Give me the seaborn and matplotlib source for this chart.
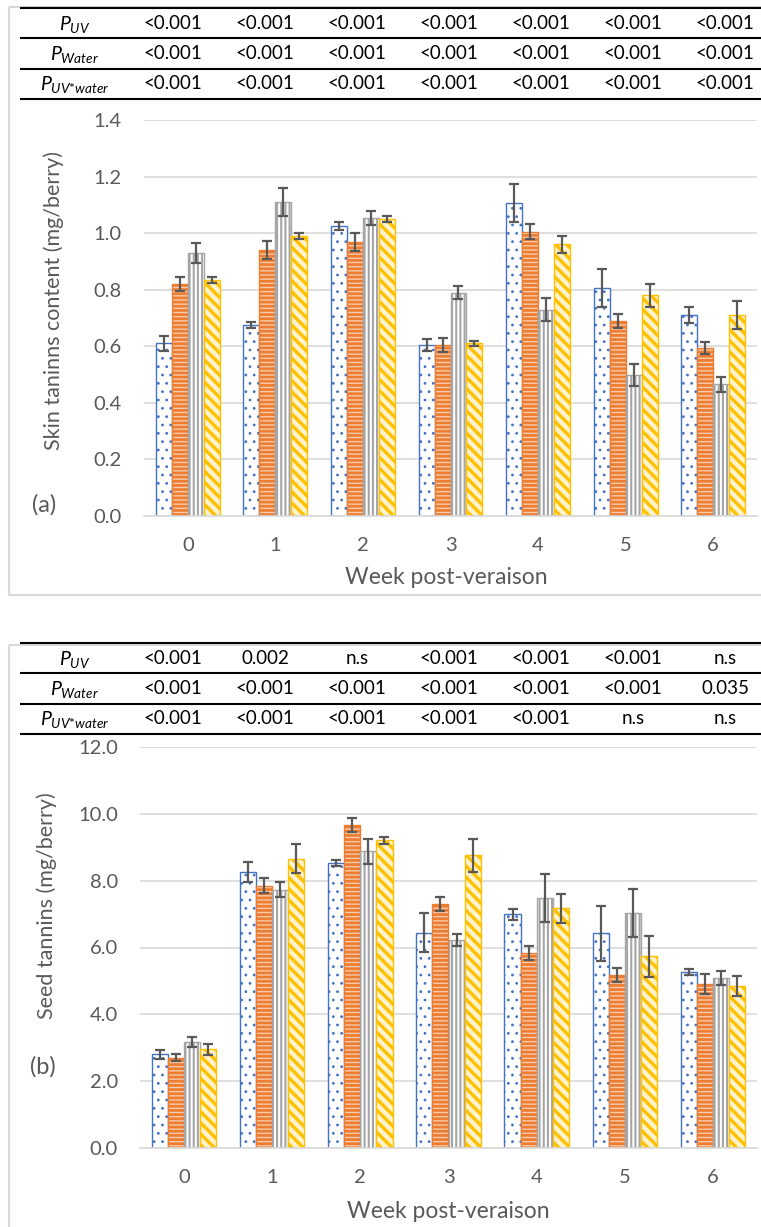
import numpy as np
import pandas as pd
import matplotlib
matplotlib.use('Agg')
import matplotlib.pyplot as plt
import seaborn as sns
from matplotlib.patches import Rectangle

# Figure size in pixels (dpi 100)
W, H = 761, 1227

weeks = ['0', '1', '2', '3', '4', '5', '6']
treatments = ['T1', 'T2', 'T3', 'T4']
colors = ['#4472C4', '#ED7D31', '#A5A5A5', '#FFC000']

# Skin tannins (mg/berry), one list per treatment
skin_t1 = [0.61, 0.675, 1.025, 0.605, 1.105, 0.805, 0.71]
skin_t2 = [0.82, 0.94, 0.97, 0.605, 1.005, 0.69, 0.595]
skin_t3 = [0.93, 1.11, 1.055, 0.79, 0.73, 0.50, 0.465]
skin_t4 = [0.835, 0.99, 1.05, 0.61, 0.96, 0.78, 0.71]
skin_err_t1 = [0.025, 0.010, 0.013, 0.020, 0.067, 0.067, 0.028]
skin_err_t2 = [0.024, 0.032, 0.032, 0.025, 0.027, 0.024, 0.021]
skin_err_t3 = [0.034, 0.049, 0.025, 0.022, 0.039, 0.039, 0.027]
skin_err_t4 = [0.010, 0.011, 0.010, 0.010, 0.030, 0.040, 0.050]

# Seed tannins (mg/berry)
seed_t1 = [2.80, 8.26, 8.53, 6.44, 6.99, 6.42, 5.27]
seed_t2 = [2.70, 7.85, 9.66, 7.30, 5.84, 5.17, 4.90]
seed_t3 = [3.16, 7.73, 8.88, 6.21, 7.47, 7.02, 5.09]
seed_t4 = [2.95, 8.66, 9.21, 8.76, 7.17, 5.74, 4.84]
seed_err_t1 = [0.14, 0.30, 0.10, 0.58, 0.17, 0.82, 0.10]
seed_err_t2 = [0.11, 0.22, 0.21, 0.22, 0.20, 0.21, 0.30]
seed_err_t3 = [0.15, 0.23, 0.38, 0.18, 0.72, 0.72, 0.21]
seed_err_t4 = [0.16, 0.44, 0.10, 0.50, 0.44, 0.61, 0.30]

# P-value tables
p_labels = [r'$P_{UV}$', r'$P_{Water}$', r'$P_{UV{*}water}$']
p_skin = [['<0.001'] * 7,
          ['<0.001'] * 7,
          ['<0.001'] * 7]
p_seed = [['<0.001', '0.002', 'n.s', '<0.001', '<0.001', '<0.001', 'n.s'],
          ['<0.001', '<0.001', '<0.001', '<0.001', '<0.001', '<0.001', '0.035'],
          ['<0.001', '<0.001', '<0.001', '<0.001', '<0.001', 'n.s', 'n.s']]

hatches = ['..', '----', '||||', '\\\\\\']
faces = ['white', '#F8CBAD', 'white', '#FFF2CC']
hatch_lw = [0.8, 2.0, 1.5, 2.4]
GRAY_TXT = '#595959'
GRID = '#D9D9D9'


def long_table(series):
    """Builds the long dataframe for seaborn"""
    rows = []
    for trat, vals in zip(treatments, series):
        for wk, v in zip(weeks, vals):
            rows.append({'week': wk, 'treatment': trat, 'value': v})
    return pd.DataFrame(rows)


def fig_rect(left, top, right, bottom):
    return [left / W, 1 - bottom / H, (right - left) / W, (bottom - top) / H]


def draw_panel(fig, rect, series, errors, ymax, ystep):
    ax = fig.add_axes(rect)
    df = long_table(series)
    sns.barplot(data=df, x='week', y='value', hue='treatment', order=weeks,
                hue_order=treatments, palette=colors, errorbar=None,
                width=0.73, legend=False, ax=ax)

    # Patterns and error bars (copy the list: errorbar adds containers)
    bar_conts = list(ax.containers)
    for i, cont in enumerate(bar_conts):
        xs, ys = [], []
        for bar in cont.patches:
            bar.set_facecolor(faces[i])
            bar.set_edgecolor(colors[i])
            bar.set_hatch(hatches[i])
            if hasattr(bar, 'set_hatch_linewidth'):
                bar.set_hatch_linewidth(hatch_lw[i])
            bar.set_linewidth(1.0)
            xs.append(bar.get_x() + bar.get_width() / 2)
            ys.append(bar.get_height())
        ax.errorbar(xs, ys, yerr=errors[i], fmt='none', ecolor=GRAY_TXT,
                    elinewidth=1.6, capsize=3.8, capthick=1.6, zorder=5)

    ax.set_xlim(-0.5, len(weeks) - 0.5)
    ax.set_ylim(0, ymax)
    ax.set_yticks(np.arange(0, ymax + ystep / 2, ystep))
    ax.yaxis.set_major_formatter(matplotlib.ticker.FormatStrFormatter('%.1f'))
    ax.set_xlabel('')
    ax.set_ylabel('')
    ax.set_facecolor('none')
    ax.yaxis.grid(True, color=GRID, linewidth=1.2)
    ax.xaxis.grid(False)
    ax.set_axisbelow(True)
    for s in ['top', 'left', 'right']:
        ax.spines[s].set_visible(False)
    ax.spines['bottom'].set_color(GRID)
    ax.spines['bottom'].set_linewidth(1.2)
    ax.tick_params(axis='both', length=0, labelsize=14.5, labelcolor=GRAY_TXT)
    ax.tick_params(axis='y', pad=16)
    ax.tick_params(axis='x', pad=15)
    return ax


def draw_table(ov, top, labels, values):
    """Table of p-values above each panel"""
    row_h = 30.3
    xs_vals = [173 + 92 * i for i in range(7)]
    for k in range(4):
        ov.plot([20, W], [top + k * row_h] * 2, color='black', lw=1.5,
                solid_capstyle='butt')
    for r, (lab, vals) in enumerate(zip(labels, values)):
        yc = top + (r + 0.5) * row_h
        ov.text(75, yc + 1, lab, ha='center', va='center', fontsize=14,
                color='black')
        for x, v in zip(xs_vals, vals):
            ov.text(x, yc, v, ha='center', va='center', fontsize=13.5,
                    color='black')


def main():
    sns.set_style('white')
    plt.rcParams['font.family'] = ['Lato', 'DejaVu Sans']
    plt.rcParams['mathtext.fontset'] = 'custom'
    plt.rcParams['mathtext.rm'] = 'Lato'
    plt.rcParams['mathtext.it'] = 'Lato:italic'
    plt.rcParams['hatch.linewidth'] = 1.5

    fig = plt.figure(figsize=(W / 100, H / 100), dpi=100)

    # Overlay in pixel coordinates for tables, borders and labels
    ov = fig.add_axes([0, 0, 1, 1], zorder=-1)
    ov.set_xlim(0, W)
    ov.set_ylim(H, 0)
    ov.axis('off')

    ov.add_patch(Rectangle((9, 7), 780, 588, fill=False, edgecolor=GRID, lw=1.5))
    ov.add_patch(Rectangle((9, 645), 780, 620, fill=False, edgecolor=GRID, lw=1.5))

    draw_table(ov, 8, p_labels, p_skin)
    draw_table(ov, 643, p_labels, p_seed)

    draw_panel(fig, fig_rect(144, 120, 757, 516),
               [skin_t1, skin_t2, skin_t3, skin_t4],
               [skin_err_t1, skin_err_t2, skin_err_t3, skin_err_t4], 1.4, 0.2)
    draw_panel(fig, fig_rect(140, 747, 757, 1148),
               [seed_t1, seed_t2, seed_t3, seed_t4],
               [seed_err_t1, seed_err_t2, seed_err_t3, seed_err_t4], 12.0, 2.0)

    ov.text(54, 301, 'Skin taninns content (mg/berry)', rotation=90, ha='center',
            va='center', fontsize=15.5, color=GRAY_TXT)
    ov.text(47, 906, 'Seed tannins (mg/berry)', rotation=90, ha='center',
            va='center', fontsize=15.5, color=GRAY_TXT)
    ov.text(446, 578, 'Week post-veraison', ha='center', va='center',
            fontsize=16.5, color=GRAY_TXT)
    ov.text(448, 1212, 'Week post-veraison', ha='center', va='center',
            fontsize=16.5, color=GRAY_TXT)
    ov.text(44, 505, '(a)', ha='center', va='center', fontsize=17, color=GRAY_TXT)
    ov.text(43, 1067, '(b)', ha='center', va='center', fontsize=17, color=GRAY_TXT)

    fig.savefig('out.png', dpi=100)


if __name__ == "__main__":
    main()
